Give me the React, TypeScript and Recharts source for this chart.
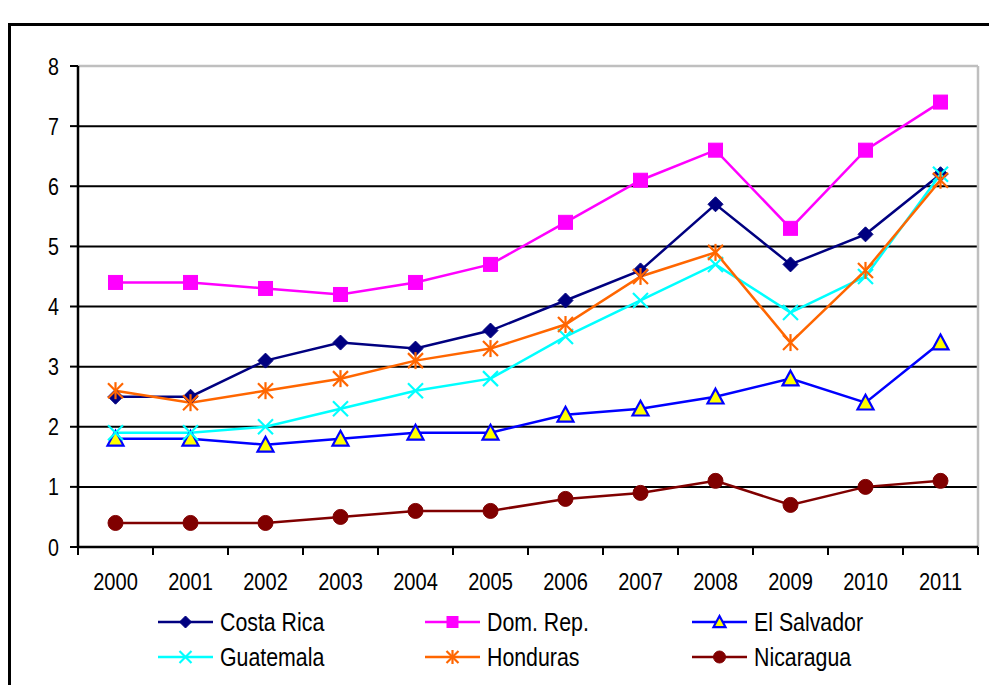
import React from 'react';
import { LineChart, Line, XAxis, YAxis, CartesianGrid, Legend } from 'recharts';

const years = ['2000', '2001', '2002', '2003', '2004', '2005', '2006', '2007', '2008', '2009', '2010', '2011'];
const yTicks = [0, 1, 2, 3, 4, 5, 6, 7, 8];

const costaRica = [2.5, 2.5, 3.1, 3.4, 3.3, 3.6, 4.1, 4.6, 5.7, 4.7, 5.2, 6.2];
const domRep = [4.4, 4.4, 4.3, 4.2, 4.4, 4.7, 5.4, 6.1, 6.6, 5.3, 6.6, 7.4];
const elSalvador = [1.8, 1.8, 1.7, 1.8, 1.9, 1.9, 2.2, 2.3, 2.5, 2.8, 2.4, 3.4];
const guatemala = [1.9, 1.9, 2.0, 2.3, 2.6, 2.8, 3.5, 4.1, 4.7, 3.9, 4.5, 6.2];
const honduras = [2.6, 2.4, 2.6, 2.8, 3.1, 3.3, 3.7, 4.5, 4.9, 3.4, 4.6, 6.1];
const nicaragua = [0.4, 0.4, 0.4, 0.5, 0.6, 0.6, 0.8, 0.9, 1.1, 0.7, 1.0, 1.1];

const seriesNames = ['Costa Rica', 'Dom. Rep.', 'El Salvador', 'Guatemala', 'Honduras', 'Nicaragua'];
const seriesKeys = ['costaRica', 'domRep', 'elSalvador', 'guatemala', 'honduras', 'nicaragua'];
const seriesValues = [costaRica, domRep, elSalvador, guatemala, honduras, nicaragua];
const seriesColors = ['#000080', '#FF00FF', '#0000FF', '#00FFFF', '#FF6600', '#800000'];
const seriesShapes = ['diamond', 'square', 'triangle', 'x', 'star', 'circle'];

const data = years.map((year, i) => {
  const row: Record<string, any> = { year };
  seriesKeys.forEach((k, j) => {
    row[k] = seriesValues[j][i];
  });
  return row;
});

const FONT = "'Liberation Sans', Arial, sans-serif";
const NARROW = 0.82;

function Marker({ shape, color, cx, cy, s }: { shape: string; color: string; cx: number; cy: number; s: number }) {
  const h = s / 2;
  switch (shape) {
    case 'diamond':
      return <polygon points={`${cx},${cy - h} ${cx + h},${cy} ${cx},${cy + h} ${cx - h},${cy}`} fill={color} stroke={color} strokeWidth={1} />;
    case 'square':
      return <rect x={cx - h + 0.5} y={cy - h + 0.5} width={s - 1} height={s - 1} fill={color} stroke={color} strokeWidth={1} />;
    case 'triangle':
      return (
        <polygon
          points={`${cx},${cy - h} ${cx + h},${cy + h * 0.85} ${cx - h},${cy + h * 0.85}`}
          fill="#FFFF00"
          stroke={color}
          strokeWidth={2.2}
        />
      );
    case 'x':
      return (
        <g stroke={color} strokeWidth={2.2}>
          <line x1={cx - h} y1={cy - h} x2={cx + h} y2={cy + h} />
          <line x1={cx - h} y1={cy + h} x2={cx + h} y2={cy - h} />
        </g>
      );
    case 'star':
      return (
        <g stroke={color} strokeWidth={2.2}>
          <line x1={cx - h} y1={cy - h} x2={cx + h} y2={cy + h} />
          <line x1={cx - h} y1={cy + h} x2={cx + h} y2={cy - h} />
          <line x1={cx} y1={cy - h - 1} x2={cx} y2={cy + h + 1} />
        </g>
      );
    default:
      return <circle cx={cx} cy={cy} r={h} fill={color} stroke={color} strokeWidth={1} />;
  }
}

const makeDot = (shape: string, color: string) => (props: any) => {
  const { cx, cy, index } = props;
  if (cx == null || cy == null) return <g key={`d-${index}`} />;
  return (
    <g key={`d-${index}`}>
      <Marker shape={shape} color={color} cx={cx} cy={cy} s={shape === 'triangle' ? 16 : 15} />
    </g>
  );
};

function XTick(props: any) {
  const { x, y, payload, index, visibleTicksCount } = props;
  const half = payload && payload.offset ? payload.offset : 37.5;
  const axisY = y;
  const count = visibleTicksCount || years.length;
  return (
    <g>
      <line x1={x - half} y1={axisY} x2={x - half} y2={axisY + 8} stroke="#000" strokeWidth={2} />
      {index === count - 1 ? (
        <line x1={x + half} y1={axisY} x2={x + half} y2={axisY + 8} stroke="#000" strokeWidth={2} />
      ) : null}
      <g transform={`translate(${x},${axisY + 43}) scale(${NARROW},1)`}>
        <text x={0} y={0} textAnchor="middle" fill="#000" fontSize={24.5} fontFamily={FONT}>
          {payload.value}
        </text>
      </g>
    </g>
  );
}

function YTick(props: any) {
  const { x, y, payload } = props;
  return (
    <g transform={`translate(${x},${y + 8.5}) scale(${NARROW},1)`}>
      <text x={0} y={0} textAnchor="end" fill="#000" fontSize={24} fontFamily={FONT}>
        {payload.value}
      </text>
    </g>
  );
}

function ChartLegend() {
  return (
    <div style={{ position: 'relative', width: 989, height: 82, fontFamily: FONT }}>
      {seriesNames.map((name, i) => {
        const col = i % 3;
        const row = Math.floor(i / 3);
        return (
          <div
            key={name}
            style={{
              position: 'absolute',
              left: 158 + col * 267,
              top: 19 + row * 35 - 17,
              height: 34,
              display: 'flex',
              alignItems: 'center',
              whiteSpace: 'nowrap',
            }}
          >
            <svg width={55} height={20} style={{ display: 'block' }}>
              <line x1={0} y1={10} x2={55} y2={10} stroke={seriesColors[i]} strokeWidth={2.5} />
              <Marker shape={seriesShapes[i]} color={seriesColors[i]} cx={27.5} cy={10} s={12} />
            </svg>
            <span
              style={{
                marginLeft: 7,
                fontSize: 26,
                color: '#000',
                lineHeight: '34px',
                display: 'inline-block',
                transform: `scaleX(${NARROW})`,
                transformOrigin: 'left center',
              }}
            >
              {name}
            </span>
          </div>
        );
      })}
    </div>
  );
}

export default function App() {
  return (
    <div style={{ position: 'fixed', left: 0, top: 0, width: 989, height: 685, overflow: 'hidden', background: '#fff' }}>
      <div
        style={{
          position: 'absolute',
          left: 8,
          top: 23,
          width: 1000,
          height: 700,
          border: '3px solid #000',
          boxSizing: 'border-box',
        }}
      />
      <div style={{ position: 'absolute', left: 0, top: 0 }}>
        <LineChart width={989} height={685} data={data} margin={{ top: 66, right: 11, left: 38, bottom: 0 }}>
          <CartesianGrid horizontal={true} vertical={false} stroke="#000" strokeWidth={2} />
          <CartesianGrid
            horizontal={true}
            vertical={true}
            stroke="#BFBFBF"
            strokeWidth={2.5}
            horizontalCoordinatesGenerator={({ offset }: any) => [offset.top]}
            verticalCoordinatesGenerator={({ offset }: any) => [offset.left + offset.width]}
          />
          <XAxis
            dataKey="year"
            scale="band"
            height={56}
            axisLine={{ stroke: '#000', strokeWidth: 2.5 }}
            tickLine={false}
            tickSize={0}
            tickMargin={0}
            interval={0}
            tick={<XTick />}
          />
          <YAxis
            width={40}
            domain={[0, 8]}
            ticks={yTicks}
            interval={0}
            allowDecimals={false}
            axisLine={{ stroke: '#000', strokeWidth: 2.5 }}
            tickLine={{ stroke: '#000', strokeWidth: 2 }}
            tickSize={8}
            tickMargin={11}
            tick={<YTick />}
          />
          <Legend verticalAlign="bottom" width={989} wrapperStyle={{ left: 0, bottom: 0, width: 989, height: 82 }} content={() => <ChartLegend />} />
          {seriesKeys.map((k, i) => (
            <Line
              key={k}
              type="linear"
              dataKey={k}
              name={seriesNames[i]}
              stroke={seriesColors[i]}
              strokeWidth={2.5}
              dot={makeDot(seriesShapes[i], seriesColors[i])}
              activeDot={false}
              isAnimationActive={false}
            />
          ))}
        </LineChart>
      </div>
    </div>
  );
}
